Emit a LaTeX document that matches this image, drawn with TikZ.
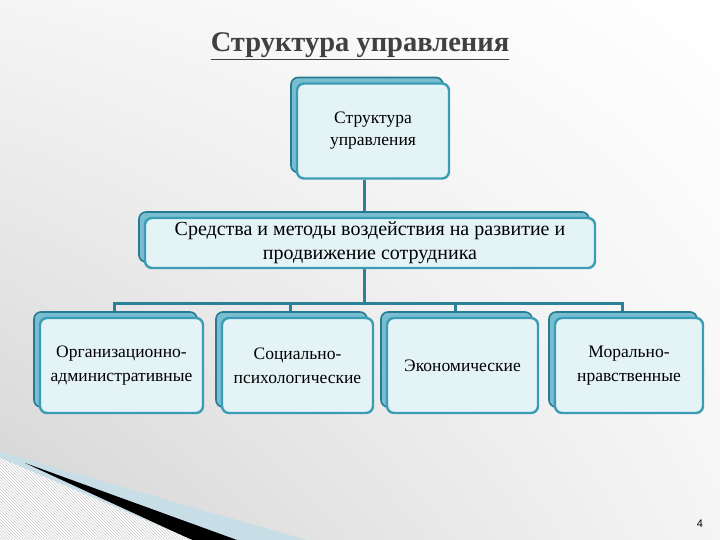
\documentclass[tikz,border=0pt]{standalone}
\usepackage{fontspec}
\setmainfont{Liberation Serif}
\setsansfont{Liberation Sans}
\usetikzlibrary{shadows,shadings,backgrounds,patterns}

\definecolor{boxfill}{RGB}{228,243,246}
\definecolor{boxline}{RGB}{58,156,181}
\definecolor{backline}{RGB}{40,122,145}
\definecolor{backfill}{RGB}{120,190,208}
\definecolor{linkcol}{RGB}{44,128,152}
\definecolor{bandblue}{RGB}{200,222,230}
\definecolor{titlegray}{RGB}{64,64,64}

\tikzset{
  unit/.style={rectangle, rounded corners=7pt, fill=boxfill, draw=boxline,
    line width=2.4pt, align=center, font=\fontsize{17.5}{22}\selectfont,
    copy shadow={shadow xshift=-6pt, shadow yshift=6pt, fill=backfill,
      draw=backline, line width=1.6pt}},
  link/.style={draw=linkcol, line width=3pt}
}

\begin{document}
\begin{tikzpicture}[x=1pt,y=-1pt]
		\useasboundingbox (0,0) rectangle (720,540);

		% title
		\node[font=\fontsize{28.5}{32}\selectfont\bfseries, text=titlegray] (title) at (360,46) {\underline{Структура управления}};

		% boxes
		\node[unit, minimum width=152pt, minimum height=95pt] (struct) at (373,131) {Структура\\управления};
		\node[unit, minimum width=450pt, minimum height=50pt, font=\fontsize{20}{24}\selectfont] (means) at (370,243) {Средства и методы воздействия на развитие и\\продвижение сотрудника};
		\node[unit, minimum width=163pt, minimum height=95pt, font=\fontsize{17.5}{24}\selectfont] (org) at (121.5,365.5) {Организационно-\\административные};
		\node[unit, minimum width=151pt, minimum height=95pt, font=\fontsize{17.5}{24}\selectfont] (soc) at (297.5,365.5) {Социально-\\психологические};
		\node[unit, minimum width=151pt, minimum height=95pt] (econ) at (462.5,365.5) {Экономические};
		\node[unit, minimum width=148pt, minimum height=95pt, font=\fontsize{17.5}{24}\selectfont] (moral) at (629,365.5) {Морально-\\нравственные};

		% page number
		\node[font=\sffamily\fontsize{11}{13}\selectfont] (page) at (700,524) {4};

		% background
		\begin{scope}[on background layer]
			\shade[upper left=black!4, lower left=black!17, upper right=white, lower right=black!4] (0,0) rectangle (720,540);
			\fill[bandblue] (0,452) -- (307,540) -- (0,540) -- cycle;
			\fill[black] (25,463) -- (237,540) -- (192,540) -- cycle;
			\fill[white] (0,458) -- (192,540) -- (0,540) -- cycle;
			\fill[pattern=north west lines, pattern color=black!20] (0,458) -- (192,540) -- (0,540) -- cycle;
		\end{scope}

		% connectors
		\coordinate (hub) at (364,303);
		\begin{scope}[on background layer]
			\draw[link] ([xshift=-9pt]struct.south) -- ([xshift=-9pt,yshift=6pt]struct.south |- means.north);
			\draw[link] ([xshift=-6pt]means.south) -- (hub);
			\draw[link] (hub) -| ([xshift=-7pt]org.north);
			\draw[link] (hub) -| ([xshift=-7pt]soc.north);
			\draw[link] (hub) -| ([xshift=-7pt]econ.north);
			\draw[link] (hub) -| ([xshift=-7pt]moral.north);
		\end{scope}
	\end{tikzpicture}
\end{document}
